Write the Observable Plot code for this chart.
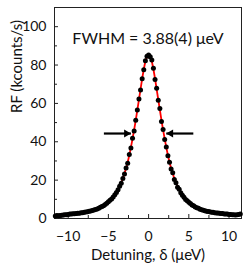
<!DOCTYPE html>
<html><head><meta charset="utf-8">
<script src="https://cdn.jsdelivr.net/npm/d3@7"></script>
<script src="https://cdn.jsdelivr.net/npm/@observablehq/plot@0.6"></script>
<style>body{margin:0;background:#fff} svg{display:block}</style>
</head><body><div id="chart"></div>
<script>
// Detuning δ (µeV)
const detuning = [-11.6,-11.4,-11.2,-11.0,-10.8,-10.6,-10.4,-10.2,-10.0,-9.8,-9.6,-9.4,-9.2,-9.0,-8.8,-8.6,-8.4,-8.2,-8.0,-7.8,-7.6,-7.4,-7.2,-7.0,-6.8,-6.6,-6.4,-6.2,-6.0,-5.8,-5.6,-5.4,-5.2,-5.0,-4.8,-4.6,-4.4,-4.2,-4.0,-3.8,-3.6,-3.4,-3.2,-3.0,-2.8,-2.6,-2.4,-2.2,-2.0,-1.8,-1.6,-1.4,-1.2,-1.0,-0.8,-0.6,-0.4,-0.2,0.0,0.2,0.4,0.6,0.8,1.0,1.2,1.4,1.6,1.8,2.0,2.2,2.4,2.6,2.8,3.0,3.2,3.4,3.6,3.8,4.0,4.2,4.4,4.6,4.8,5.0,5.2,5.4,5.6,5.8,6.0,6.2,6.4,6.6,6.8,7.0,7.2,7.4,7.6,7.8,8.0,8.2,8.4,8.6,8.8,9.0,9.2,9.4,9.6,9.8,10.0,10.2,10.4,10.6,10.8,11.0,11.2,11.4];
// Measured RF (kcounts/s)
const rf = [1.3,1.5,1.4,1.6,1.7,1.8,2.0,2.0,2.1,2.3,2.3,2.5,2.5,2.6,2.7,2.8,3.0,3.0,3.2,3.4,3.5,3.8,3.9,4.2,4.4,4.7,5.0,5.4,5.8,6.2,6.7,7.3,8.0,8.7,9.5,10.2,11.2,12.4,13.6,15.0,16.8,18.4,20.8,23.2,26.3,28.8,33.4,36.8,41.9,45.6,51.2,56.6,62.3,67.0,72.8,77.6,82.2,84.6,85.2,84.3,82.6,78.3,72.4,67.9,61.6,57.3,50.6,46.4,41.2,37.3,32.7,29.3,25.8,23.8,20.3,18.7,16.3,15.2,13.4,12.1,11.1,9.9,9.3,8.5,7.8,7.1,6.6,6.0,5.6,5.3,4.8,4.6,4.3,4.1,3.8,3.7,3.5,3.3,3.2,3.0,2.9,2.9,2.7,2.6,2.6,2.4,2.3,2.3,2.1,2.1,1.9,2.0,1.8,1.9,2.1,2.3];
// Fitted curve (kcounts/s), same detuning grid
const fit = [1.7,1.75,1.85,1.95,2.05,2.15,2.25,2.35,2.45,2.55,2.65,2.75,2.85,2.95,3.05,3.15,3.25,3.4,3.5,3.7,3.8,4.0,4.2,4.4,4.7,4.9,5.2,5.6,6.0,6.4,6.9,7.5,8.2,8.9,9.7,10.3,11.3,12.5,13.8,15.2,16.8,18.7,20.9,23.5,26.2,29.3,33.0,37.1,41.5,46.2,51.2,56.6,62.0,67.5,72.9,77.8,82.0,84.4,85.2,84.4,82.0,77.8,72.9,67.5,62.0,56.6,51.2,46.2,41.5,37.1,33.0,29.3,26.2,23.5,20.9,18.7,16.8,15.2,13.8,12.5,11.3,10.3,9.7,8.9,8.2,7.5,6.9,6.4,6.0,5.6,5.2,4.9,4.7,4.4,4.2,4.0,3.8,3.7,3.5,3.4,3.25,3.15,3.05,2.95,2.85,2.75,2.65,2.55,2.45,2.35,2.25,2.15,2.05,1.95,1.85,1.75];

const xMajor = [-10, -5, 0, 5, 10];
const xMinor = [-7.5, -2.5, 2.5, 7.5];
const yMajor = [0, 20, 40, 60, 80, 100];
const yMinor = [10, 30, 50, 70, 90];

// FWHM arrows (data units)
const arrowTail = [-5.56, 5.56];
const arrowTip = [-2.2, 2.2];
const arrowY = [44.3, 44.3];

const annotation = "FWHM = 3.88(4) μeV";
const xLabel = "Detuning, δ (μeV)";
const yLabel = "RF (kcounts/s)";

const W = 250, H = 272;
const mt = 7, mr = 9, mb = 54, ml = 54;
const fw = W - ml - mr, fh = H - mt - mb;

const pts = detuning.map((x, i) => ({x, y: rf[i]}));
const curve = detuning.map((x, i) => ({x, y: fit[i]}));
const arrows = arrowTail.map((t, i) => ({tail: t, tip: arrowTip[i], y: arrowY[i], i}));

const chart = Plot.plot({
  width: W, height: H,
  marginTop: mt, marginRight: mr, marginBottom: mb, marginLeft: ml,
  style: {fontFamily: "Lato, 'Open Sans', sans-serif", color: "#111", background: "#fff"},
  x: {domain: [-11.7, 11.55]},
  y: {domain: [0, 110]},
  marks: [
    Plot.frame({stroke: "#222", strokeWidth: 1}),
    Plot.tickX(xMajor, {x: d => d, insetTop: fh - 4, stroke: "#222"}),
    Plot.tickX(xMinor, {x: d => d, insetTop: fh - 3, stroke: "#222"}),
    Plot.tickY(yMajor, {y: d => d, insetRight: fw - 4, stroke: "#222"}),
    Plot.tickY(yMinor, {y: d => d, insetRight: fw - 3, stroke: "#222"}),
    Plot.axisX({ticks: xMajor, tickSize: 0, tickPadding: 13, fontSize: 14, label: null}),
    Plot.axisY({ticks: yMajor, tickSize: 0, tickPadding: 8, fontSize: 14, label: null}),
    Plot.line(curve, {x: "x", y: "y", stroke: "#ff0000", strokeWidth: 1.8}),
    Plot.dot(pts, {x: "x", y: "y", r: 2.5, fill: "black", stroke: "none"}),
    Plot.link(arrows, {x1: "tail", x2: "tip", y1: "y", y2: "y", stroke: "black", strokeWidth: 2.2}),
    Plot.dot(arrows.filter(d => d.i === 0), {x: "tip", y: "y", symbol: "triangle2", r: 3.8, rotate: 90, dx: -4.5, fill: "black"}),
    Plot.dot(arrows.filter(d => d.i === 1), {x: "tip", y: "y", symbol: "triangle2", r: 3.8, rotate: -90, dx: 4.5, fill: "black"}),
    Plot.text([annotation], {frameAnchor: "top", dy: 25, fontSize: 16, fill: "#111"}),
    Plot.text([xLabel], {frameAnchor: "bottom", dy: 41, fontSize: 15, fill: "#111"}),
    Plot.text([yLabel], {frameAnchor: "left", dx: -37, rotate: -90, fontSize: 15, fill: "#111"})
  ]
});
document.getElementById("chart").appendChild(chart);
</script>
</body></html>
